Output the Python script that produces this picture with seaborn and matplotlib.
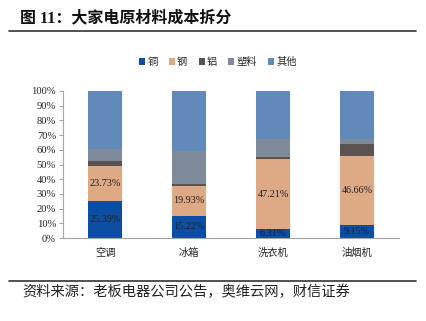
import matplotlib
matplotlib.use("Agg")
import matplotlib.pyplot as plt
from matplotlib.lines import Line2D
from matplotlib.patches import Patch
from matplotlib.font_manager import FontProperties
import seaborn as sns
import pandas as pd
import numpy as np

# Appliance categories and material cost shares (%)
categories = ["空调", "冰箱", "洗衣机", "油烟机"]
copper = [25.39, 15.22, 6.31, 9.15]
steel = [23.73, 19.93, 47.21, 46.66]
aluminum = [3.3, 1.8, 1.8, 8.2]
plastic = [8.1, 22.3, 11.8, 3.1]
other = [39.48, 40.75, 32.88, 32.89]

materials = ["铜", "钢", "铝", "塑料", "其他"]
colors = ["#0C4EA3", "#DEA985", "#595352", "#7F8B9B", "#6189BA"]
yticks = [0, 10, 20, 30, 40, 50, 60, 70, 80, 90, 100]

sns.set_style("white")
FAM = ["Liberation Serif", "Noto Sans CJK SC"]
plt.rcParams["font.family"] = FAM
CJK = FontProperties(family="Noto Sans CJK SC", size=7.4)

fig = plt.figure(figsize=(4.26, 3.21), dpi=100)
ax = fig.add_axes([63 / 426, 1 - 238 / 321, 336 / 426, 147 / 321])

series = [copper, steel, aluminum, plastic, other]
cum = np.cumsum(np.array(series), axis=0)

# Stacked bars: draw cumulative totals from the top layer down
for i in range(len(series) - 1, -1, -1):
    df = pd.DataFrame({"cat": categories, "val": cum[i]})
    sns.barplot(data=df, x="cat", y="val", color=colors[i], width=0.415,
                saturation=1, ax=ax, linewidth=0, zorder=2)

# Value labels for copper and steel
for j in range(len(categories)):
    ax.text(j, copper[j] / 2, f"{copper[j]:.2f}%", ha="center", va="center",
            fontsize=7.3, color="#222222", zorder=5)
    ax.text(j, copper[j] + steel[j] / 2, f"{steel[j]:.2f}%", ha="center",
            va="center", fontsize=7.3, color="#222222", zorder=5)

ax.set_xlim(-0.5, 3.5)
ax.set_ylim(0, 100)
ax.set_yticks(yticks)
ax.set_yticklabels([f"{v}%" for v in yticks], fontsize=7.6, color="#222222")
ax.set_xticks(range(len(categories)))
ax.set_xticklabels(categories, fontproperties=CJK, color="#222222")
ax.set_xlabel("")
ax.set_ylabel("")
ax.tick_params(axis="x", which="major", length=0, pad=7)
ax.set_xticks([-0.5, 0.5, 1.5, 2.5, 3.5], minor=True)
ax.tick_params(axis="x", which="minor", length=3, color="#A6A6A6", width=0.8)
ax.tick_params(axis="y", length=3, color="#A6A6A6", width=0.8, left=True, pad=2)
for s in ["top", "right"]:
    ax.spines[s].set_visible(False)
for s in ["left", "bottom"]:
    ax.spines[s].set_color("#A6A6A6")
    ax.spines[s].set_linewidth(0.8)

# Legend
handles = [Patch(facecolor=c, edgecolor="none") for c in colors]
fig.legend(handles, materials, loc="center", bbox_to_anchor=(218 / 426, 1 - 62 / 321),
           ncol=5, frameon=False, prop=CJK, handlelength=0.6, handleheight=0.6,
           handletextpad=0.2, columnspacing=1.1, borderpad=0)

# Title and source note with rules
fig.text(20 / 426, 1 - 18 / 321, "图 11：大家电原材料成本拆分", fontsize=11.5,
         fontweight="bold", ha="left", va="center", color="#111111")
fig.add_artist(Line2D([9 / 426, 416 / 426], [1 - 31 / 321] * 2, color="#333333", lw=1.2))
fig.add_artist(Line2D([9 / 426, 416 / 426], [1 - 281 / 321] * 2, color="#333333", lw=1.2))
fig.text(22 / 426, 1 - 292 / 321, "资料来源：老板电器公司公告，奥维云网，财信证券",
         fontsize=10.3, style="italic", ha="left", va="center", color="#222222")

fig.savefig("out.png", dpi=100)
